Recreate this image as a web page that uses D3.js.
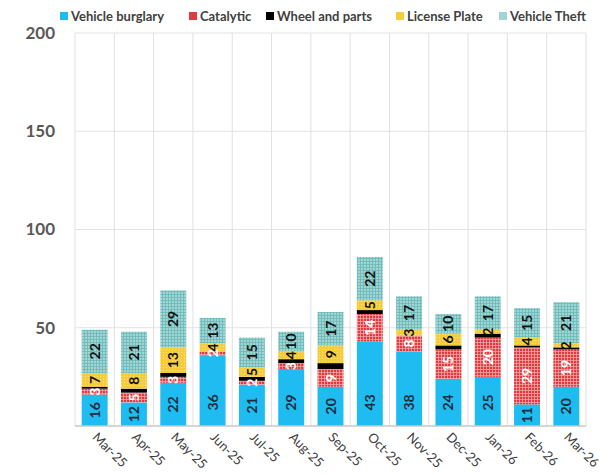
<!DOCTYPE html>
<html>
<head>
<meta charset="utf-8">
<script src="https://cdn.jsdelivr.net/npm/d3@7"></script>
<style>
  body { margin: 0; background: #fff; }
  svg { font-family: Lato, "Open Sans", sans-serif; }
</style>
</head>
<body>
<div id="svgContainer"></div>
<script>
const months = ["Mar-25", "Apr-25", "May-25", "Jun-25", "Jul-25", "Aug-25", "Sep-25",
    "Oct-25", "Nov-25", "Dec-25", "Jan-26", "Feb-26", "Mar-26"];
const seriesNames = ["Vehicle burglary", "Catalytic", "Wheel and parts", "License Plate", "Vehicle Theft"];

const burglary = [16, 12, 22, 36, 21, 29, 20, 43, 38, 24, 25, 11, 20];
const catalytic = [3, 5, 3, 2, 2, 3, 9, 14, 8, 15, 20, 29, 19];
const wheel = [1, 2, 2, 0, 2, 2, 3, 2, 0, 2, 2, 1, 1];
const plate = [7, 8, 13, 4, 5, 4, 9, 5, 3, 6, 2, 4, 2];
const theft = [22, 21, 29, 13, 15, 10, 17, 22, 17, 10, 17, 15, 21];

const yTicks = [50, 100, 150, 200];

const width = 615;
const height = 475;

const svg = d3.select("#svgContainer").append("svg")
    .attr("width", width)
    .attr("height", height);

// patterns for the textured fills
const defs = svg.append("defs");

const catPat = defs.append("pattern")
    .attr("id", "pCat").attr("patternUnits", "userSpaceOnUse")
    .attr("width", 3).attr("height", 3);
catPat.append("rect").attr("width", 3).attr("height", 3).attr("fill", "#e0393e");
catPat.append("path").attr("d", "M0,0.5H3M0.5,0V3").attr("stroke", "#f5a3a3").attr("stroke-width", 0.8);

const theftPat = defs.append("pattern")
    .attr("id", "pTheft").attr("patternUnits", "userSpaceOnUse")
    .attr("width", 3).attr("height", 3);
theftPat.append("rect").attr("width", 3).attr("height", 3).attr("fill", "#9fd6d4");
theftPat.append("path").attr("d", "M0,0.5H3M0.5,0V3").attr("stroke", "#6bb8b8").attr("stroke-width", 0.8);

const platePat = defs.append("pattern")
    .attr("id", "pPlate").attr("patternUnits", "userSpaceOnUse")
    .attr("width", 3).attr("height", 3);
platePat.append("rect").attr("width", 3).attr("height", 3).attr("fill", "#f7cc3c");
platePat.append("rect").attr("x", 1).attr("y", 1).attr("width", 1).attr("height", 1).attr("fill", "#fbe08a");

const fills = ["#1ebcf0", "url(#pCat)", "#000", "url(#pPlate)", "url(#pTheft)"];
const legendFills = ["#1ebcf0", "#e0393e", "#000", "#f7cc3c", "#9fd6d4"];
const labelColors = ["#1f2d3d", "#fff", "#000", "#111", "#111"];

const rows = months.map((m, i) => ({
    month: m,
    s0: burglary[i], s1: catalytic[i], s2: wheel[i], s3: plate[i], s4: theft[i]
}));
const keys = ["s0", "s1", "s2", "s3", "s4"];
const stacked = d3.stack().keys(keys)(rows);

const x = d3.scaleBand().domain(months).range([75, 586]).paddingInner(0.34).paddingOuter(0.17);
const y = d3.scaleLinear().domain([0, 200]).range([426, 33]);

const step = x.step();

// horizontal gridlines
svg.append("g")
    .selectAll("line")
    .data(yTicks)
    .join("line")
    .attr("x1", 75).attr("x2", 586)
    .attr("y1", d => y(d)).attr("y2", d => y(d))
    .attr("stroke", "#e3e3e3");

// vertical gridlines between categories
svg.append("g")
    .selectAll("line")
    .data(d3.range(months.length + 1))
    .join("line")
    .attr("x1", i => 75 + i * step).attr("x2", i => 75 + i * step)
    .attr("y1", y(200)).attr("y2", y(0))
    .attr("stroke", "#e0e0e0");

// y axis labels
svg.append("g")
    .selectAll("text")
    .data(yTicks)
    .join("text")
    .attr("x", 55)
    .attr("y", d => y(d))
    .attr("dy", "0.35em")
    .attr("text-anchor", "end")
    .attr("font-size", 17)
    .attr("font-weight", 700)
    .attr("fill", "#595959")
    .text(d => d);

// bars
const layer = svg.append("g")
    .selectAll("g")
    .data(stacked)
    .join("g")
    .attr("fill", (d, i) => fills[i]);

layer.selectAll("rect")
    .data(d => d)
    .join("rect")
    .attr("x", d => x(d.data.month))
    .attr("width", x.bandwidth())
    .attr("y", d => y(d[1]))
    .attr("height", d => y(d[0]) - y(d[1]));

// data labels (rotated); bottom series sits near the base
const labelPos = (d, si) => {
    const mid = (d[0] + d[1]) / 2;
    return si === 0 ? Math.min(mid, 12) : mid;
};
stacked.forEach((s, si) => {
    if (si === 2) return;
    svg.append("g")
        .selectAll("text")
        .data(s.filter(d => d[1] - d[0] > 0))
        .join("text")
        .attr("transform", d => `translate(${x(d.data.month) + x.bandwidth() / 2}, ${y(labelPos(d, si))}) rotate(-90)`)
        .attr("text-anchor", "middle")
        .attr("dy", "0.36em")
        .attr("font-size", 14)
        .attr("font-weight", 700)
        .attr("fill", labelColors[si])
        .text(d => d[1] - d[0]);
});

// baseline
svg.append("line")
    .attr("x1", 75).attr("x2", 586)
    .attr("y1", y(0)).attr("y2", y(0))
    .attr("stroke", "#c8c8c8").attr("stroke-width", 1.5);

// x labels
svg.append("g")
    .selectAll("text")
    .data(months)
    .join("text")
    .attr("transform", d => `translate(${x(d) + x.bandwidth() / 2 - 3}, 438) rotate(45)`)
    .attr("text-anchor", "start")
    .attr("font-size", 13)
    .attr("fill", "#404040")
    .text(d => d);

// legend
const legendX = [60, 189, 266, 396, 499];
const legend = svg.append("g");
seriesNames.forEach((name, i) => {
    legend.append("rect")
        .attr("x", legendX[i]).attr("y", 12)
        .attr("width", 8).attr("height", 8)
        .attr("fill", legendFills[i]);
    legend.append("text")
        .attr("x", legendX[i] + 11).attr("y", 16)
        .attr("dy", "0.35em")
        .attr("font-size", 13)
        .attr("font-weight", 700)
        .attr("fill", "#404040")
        .text(name);
});
</script>
</body>
</html>
